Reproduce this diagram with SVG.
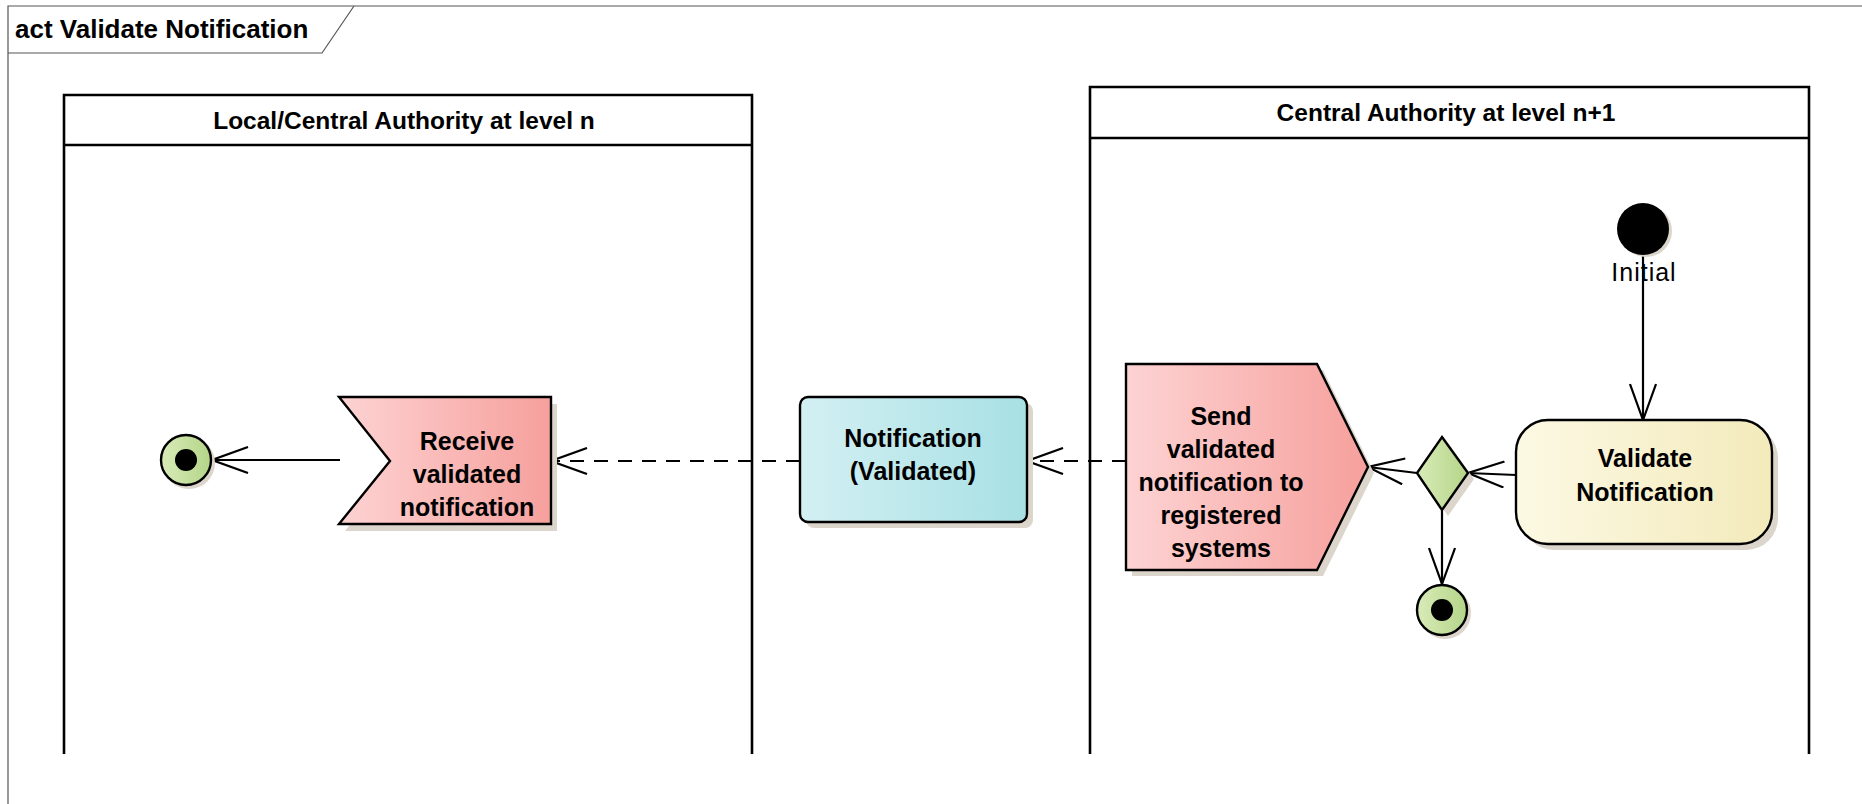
<svg xmlns="http://www.w3.org/2000/svg" width="1862" height="804" viewBox="0 0 1862 804">
<style>
.frame{fill:none;stroke:#555;stroke-width:1.2}
.lane{fill:none;stroke:#000;stroke-width:2.6}
.node{stroke:#000;stroke-width:2.4}
.sh{fill:#dcd5cc}
.t{font-family:"Liberation Sans",Arial,sans-serif;font-weight:bold;font-size:25px;fill:#000;text-anchor:middle}
.h{font-family:"Liberation Sans",Arial,sans-serif;font-weight:bold;font-size:24.5px;fill:#000;text-anchor:middle}
.lbl{font-family:"Liberation Sans",Arial,sans-serif;font-size:25px;fill:#000;text-anchor:middle;letter-spacing:1px}
.c{fill:none;stroke:#000;stroke-width:2.2}
.d{stroke-dasharray:14 10}
</style>
<defs>
<linearGradient id="gRed" x1="0" y1="0" x2="1" y2="0"><stop offset="0" stop-color="#fdd3d3"/><stop offset="1" stop-color="#f6a09c"/></linearGradient>
<linearGradient id="gCyan" x1="0" y1="0" x2="1" y2="0"><stop offset="0" stop-color="#d3f0f3"/><stop offset="1" stop-color="#a7e0e4"/></linearGradient>
<linearGradient id="gYel" x1="0" y1="0" x2="1" y2="0"><stop offset="0" stop-color="#fcf9e4"/><stop offset="1" stop-color="#f3eabb"/></linearGradient>
<linearGradient id="gGrn" x1="0" y1="0" x2="1" y2="0"><stop offset="0" stop-color="#d9ebb8"/><stop offset="1" stop-color="#b4d588"/></linearGradient>
<marker id="arr" viewBox="0 0 40 28" refX="38" refY="14" markerWidth="40" markerHeight="28" markerUnits="userSpaceOnUse" orient="auto">
<path d="M2,1 L38,14 L2,27" fill="none" stroke="#000" stroke-width="2.2" stroke-dasharray="none"/>
</marker>
</defs>
<rect width="1862" height="804" fill="#fff"/>
<g id="frame">
<path class="frame" d="M8,804 L8,6 L1862,6"/>
<path class="frame" d="M8,53 L322,53 L354,6"/>
<text x="15" y="38" style="font-family:'Liberation Sans',Arial,sans-serif;font-weight:bold;font-size:26px;fill:#000">act Validate Notification</text>
</g>
<g id="lane-local">
<path class="lane" d="M64,754 L64,95 L752,95 L752,754 M64,145 L752,145"/>
<text class="h" x="404" y="129">Local/Central Authority at level n</text>
</g>
<g id="lane-central">
<path class="lane" d="M1090,754 L1090,87 L1809,87 L1809,754 M1090,138 L1809,138"/>
<text class="h" x="1446" y="121">Central Authority at level n+1</text>
</g>
<g id="connectors">
<path class="c" d="M1643,255 L1643,420" marker-end="url(#arr)"/>
<path class="c" d="M1516,475 L1468,473" marker-end="url(#arr)"/>
<path class="c" d="M1417,473 L1368,467" marker-end="url(#arr)"/>
<path class="c" d="M1442,510 L1442,584" marker-end="url(#arr)"/>
<path class="c d" d="M1126,461 L1027,461" marker-end="url(#arr)"/>
<path class="c d" d="M800,461 L551,461" marker-end="url(#arr)"/>
<path class="c" d="M340,460 L212,460" marker-end="url(#arr)"/>
</g>
<g id="initial">
<circle cx="1646" cy="231" r="26" class="sh"/>
<circle cx="1643" cy="229" r="26" fill="#000"/>
<text class="lbl" x="1644" y="281">Initial</text>
</g>
<g id="validate-notification">
<rect x="1522" y="426" width="256" height="124" rx="32" class="sh"/>
<rect x="1516" y="420" width="256" height="124" rx="32" fill="url(#gYel)" class="node"/>
<text class="t" x="1645" y="467">Validate</text>
<text class="t" x="1645" y="501">Notification</text>
</g>
<g id="decision">
<polygon points="1448,443 1474,479 1448,516 1423,479" class="sh"/>
<polygon points="1442,437 1468,473 1442,510 1417,473" fill="url(#gGrn)" class="node"/>
</g>
<g id="final-right">
<circle cx="1445" cy="613" r="26" class="sh"/>
<circle cx="1442" cy="610" r="25" fill="url(#gGrn)" class="node"/>
<circle cx="1442" cy="610" r="11" fill="#000"/>
</g>
<g id="send-signal">
<polygon points="1132,370 1323,370 1374,473 1323,576 1132,576" class="sh"/>
<polygon points="1126,364 1317,364 1368,467 1317,570 1126,570" fill="url(#gRed)" class="node"/>
<text class="t" x="1221" y="425">Send</text>
<text class="t" x="1221" y="458">validated</text>
<text class="t" x="1221" y="491">notification to</text>
<text class="t" x="1221" y="524">registered</text>
<text class="t" x="1221" y="557">systems</text>
</g>
<g id="notification-object">
<rect x="806" y="403" width="227" height="125" rx="8" class="sh"/>
<rect x="800" y="397" width="227" height="125" rx="8" fill="url(#gCyan)" class="node"/>
<text class="t" x="913" y="447">Notification</text>
<text class="t" x="913" y="480">(Validated)</text>
</g>
<g id="receive-signal">
<polygon points="345,404 557,404 557,531 345,531 396,467" class="sh"/>
<polygon points="339,397 551,397 551,524 339,524 390,461" fill="url(#gRed)" class="node"/>
<text class="t" x="467" y="450">Receive</text>
<text class="t" x="467" y="483">validated</text>
<text class="t" x="467" y="516">notification</text>
</g>
<g id="final-left">
<circle cx="189" cy="463" r="26" class="sh"/>
<circle cx="186" cy="460" r="25" fill="url(#gGrn)" class="node"/>
<circle cx="186" cy="460" r="11" fill="#000"/>
</g>
</svg>
